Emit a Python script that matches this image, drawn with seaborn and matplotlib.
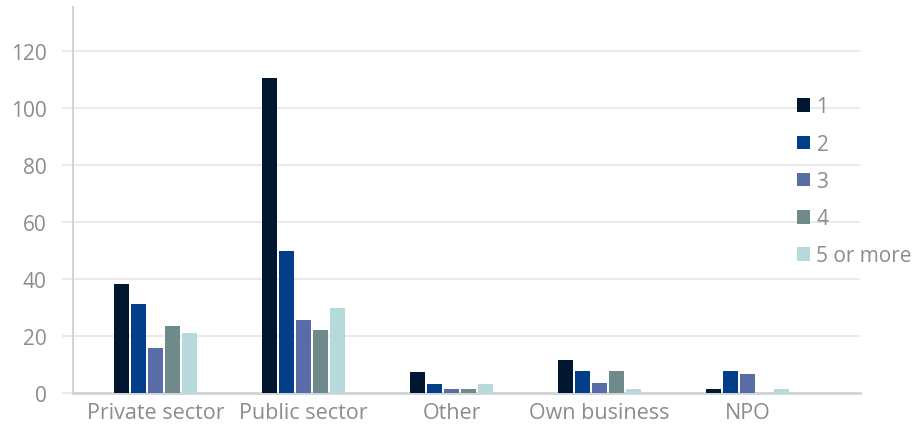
import matplotlib
matplotlib.use("Agg")
import matplotlib.pyplot as plt
import seaborn as sns
import pandas as pd

# Sector categories and the counts for each number-of-employers band
sectors = ["Private sector", "Public sector", "Other", "Own business", "NPO"]
bands = ["1", "2", "3", "4", "5 or more"]
band_1 = [38.2, 110.5, 7.5, 11.7, 1.5]
band_2 = [31.2, 49.8, 3.3, 7.8, 7.8]
band_3 = [15.8, 25.6, 1.5, 3.6, 6.8]
band_4 = [23.5, 22.1, 1.5, 7.8, 0.0]
band_5 = [21.0, 29.8, 3.3, 1.5, 1.5]
y_ticks = [0, 20, 40, 60, 80, 100, 120]

palette = ["#011731", "#023f88", "#5a6ca8", "#6e8a8b", "#b6dadb"]

rows = []
for band, values in zip(bands, [band_1, band_2, band_3, band_4, band_5]):
    for sector, v in zip(sectors, values):
        rows.append({"sector": sector, "band": band, "value": v})
df = pd.DataFrame(rows)

sns.set_theme(style="white")
plt.rcParams["font.family"] = ["Open Sans", "DejaVu Sans"]

fig = plt.figure(figsize=(9.14, 4.27), dpi=100)
ax = fig.add_axes([73 / 914, 1 - 394.3 / 427, (860 - 73) / 914, (394.3 - 8) / 427])

sns.barplot(data=df, x="sector", y="value", hue="band", order=sectors,
            hue_order=bands, palette=palette, width=0.575, gap=0.12,
            saturation=1, linewidth=0, ax=ax, zorder=3)

ax.set_xlim(-0.56, 4.76)
ax.set_ylim(0, 135.3)
ax.set_yticks(y_ticks)
ax.set_xlabel("")
ax.set_ylabel("")

grid_c = "#e6e6e6"
label_c = "#8c8c8c"
ax.yaxis.grid(True, color=grid_c, linewidth=1.2, zorder=0)
ax.xaxis.grid(False)
ax.set_axisbelow(True)
for s in ["top", "right"]:
    ax.spines[s].set_visible(False)
ax.spines["left"].set_color("#cfd4d4")
ax.spines["left"].set_linewidth(1.5)
ax.spines["bottom"].set_color("#cfd4d4")
ax.spines["bottom"].set_linewidth(2)

ax.tick_params(axis="y", length=8, width=1.2, color=grid_c, pad=11,
               labelsize=15, labelcolor=label_c, left=True)
ax.tick_params(axis="x", length=0, pad=6, labelsize=15.5, labelcolor=label_c)

leg = ax.legend(loc="upper left", bbox_to_anchor=((789 - 73) / 787, (394.3 - 89) / 386.3),
                frameon=False, fontsize=15, handlelength=0.62, handleheight=0.62,
                handletextpad=0.3, labelspacing=0.78, borderaxespad=0)
for t in leg.get_texts():
    t.set_color(label_c)

fig.savefig("out.png", dpi=100)
